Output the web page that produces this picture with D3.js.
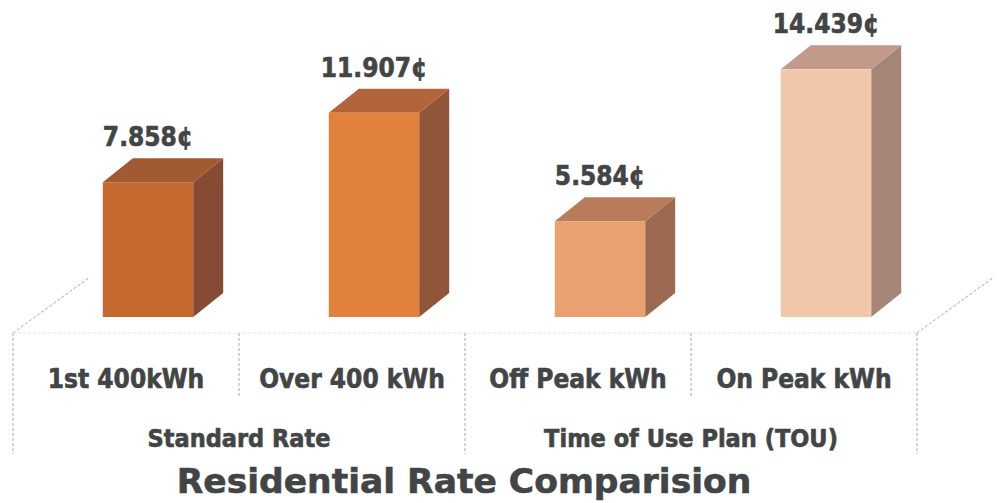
<!DOCTYPE html>
<html lang="en">
<head>
<script type="text/javascript" src="https://cdnjs.cloudflare.com/ajax/libs/d3/7.8.5/d3.min.js"></script>
<style>
    body { margin: 0; background: #fff; }
    text { font-family: "DejaVu Sans Condensed", "DejaVu Sans", sans-serif; font-weight: bold;
           fill: #424545; stroke: #424545; stroke-width: 0.6; }
</style>
</head>
<body>
<div id="container"></div>
<script type="text/javascript">
    var w = 997;
    var h = 503;

    // data
    var categories = ["1st 400kWh", "Over 400 kWh", "Off Peak kWh", "On Peak kWh"];
    var rates = [7.858, 11.907, 5.584, 14.439];
    var groups = ["Standard Rate", "Time of Use Plan (TOU)"];
    var groupOf = [0, 0, 1, 1];
    var title = "Residential Rate Comparision";

    var frontColors = ["#c5692f", "#e2813b", "#eba16f", "#f1c6a9"];
    var topColors   = ["#a25a33", "#b2653a", "#b87c5a", "#c2998a"];
    var sideColors  = ["#864c33", "#91553a", "#9c6a50", "#a58577"];

    var svg = d3.select("#container")
                .append("svg")
                .attr("width", w)
                .attr("height", h);

    var floorY = 333;      // front edge of the floor
    var floorDx = 77, floorDy = -56;   // floor depth
    var barDx = 30, barDy = -24;       // bar depth
    var off = 16 / 56;                 // bars sit this far back on the floor

    var xscale = d3.scaleBand()
                   .domain(categories)
                   .range([13, 917])
                   .padding(0);

    var baseY = floorY + floorDy * off;   // 317
    var yscale = d3.scaleLinear()
                   .domain([0, 15])
                   .range([baseY, baseY - 15 * 17.15]);

    var barW = xscale.bandwidth() * 0.4;
    var frontX = function(d, i) {
        return xscale(categories[i]) + xscale.bandwidth() / 2 - barW / 2 + floorDx * off;
    };

    // floor outline
    var floor = svg.append("g")
                   .attr("stroke", "#a8a8a8")
                   .attr("stroke-width", 1)
                   .attr("stroke-dasharray", "3,2")
                   .attr("fill", "none");
    var x0 = xscale.range()[0], x1 = xscale.range()[1];
    floor.append("line").attr("x1", x0).attr("y1", floorY).attr("x2", x0 + floorDx).attr("y2", floorY + floorDy);
    floor.append("line").attr("x1", x1).attr("y1", floorY).attr("x2", x1 + floorDx).attr("y2", floorY + floorDy);
    floor.append("line").attr("x1", x0).attr("y1", floorY).attr("x2", x1).attr("y2", floorY)
         .attr("stroke", "#e4e4e4");

    // outer dividers (group edges) and inner dividers (category edges)
    floor.selectAll("line.outer")
         .data([0, 2, 4])
         .enter()
         .append("line")
         .attr("class", "outer")
         .attr("x1", function(d) { return d < 4 ? xscale(categories[d]) : x1; })
         .attr("x2", function(d) { return d < 4 ? xscale(categories[d]) : x1; })
         .attr("y1", floorY)
         .attr("y2", 454);
    floor.selectAll("line.inner")
         .data([1, 3])
         .enter()
         .append("line")
         .attr("class", "inner")
         .attr("x1", function(d) { return xscale(categories[d]); })
         .attr("x2", function(d) { return xscale(categories[d]); })
         .attr("y1", floorY)
         .attr("y2", 396);

    // bars
    var bars = svg.selectAll("g.bar")
                  .data(rates)
                  .enter()
                  .append("g")
                  .attr("class", "bar");

    bars.append("path")
        .attr("fill", function(d, i) { return sideColors[i]; })
        .attr("d", function(d, i) {
            var x = frontX(d, i) + barW, yt = yscale(d), yb = yscale(0);
            return "M" + x + "," + yt + "L" + (x + barDx) + "," + (yt + barDy) +
                   "L" + (x + barDx) + "," + (yb + barDy) + "L" + x + "," + yb + "Z";
        });

    bars.append("path")
        .attr("fill", function(d, i) { return topColors[i]; })
        .attr("d", function(d, i) {
            var x = frontX(d, i), yt = yscale(d);
            return "M" + x + "," + yt + "L" + (x + barDx) + "," + (yt + barDy) +
                   "L" + (x + barW + barDx) + "," + (yt + barDy) + "L" + (x + barW) + "," + yt + "Z";
        });

    bars.append("rect")
        .attr("fill", function(d, i) { return frontColors[i]; })
        .attr("x", function(d, i) { return frontX(d, i); })
        .attr("y", function(d) { return yscale(d); })
        .attr("width", barW)
        .attr("height", function(d) { return yscale(0) - yscale(d); });

    // value labels
    bars.append("text")
        .text(function(d) { return d.toFixed(3) + "\u00a2"; })
        .attr("x", function(d, i) { return frontX(d, i) + barW / 2; })
        .attr("y", function(d) { return yscale(d) + barDy - 12; })
        .attr("text-anchor", "middle")
        .attr("font-size", 26);

    // category labels
    svg.selectAll("text.cat")
       .data(categories)
       .enter()
       .append("text")
       .attr("class", "cat")
       .text(function(d) { return d; })
       .attr("x", function(d) { return xscale(d) + xscale.bandwidth() / 2; })
       .attr("y", 388)
       .attr("text-anchor", "middle")
       .attr("font-size", 26);

    // group labels
    svg.selectAll("text.grp")
       .data(groups)
       .enter()
       .append("text")
       .attr("class", "grp")
       .text(function(d) { return d; })
       .attr("x", function(d, gi) {
           var idx = categories.filter(function(c, i) { return groupOf[i] === gi; });
           return (xscale(idx[0]) + xscale(idx[idx.length - 1]) + xscale.bandwidth()) / 2;
       })
       .attr("y", 447)
       .attr("text-anchor", "middle")
       .attr("font-size", 25);

    svg.append("text")
       .text(title)
       .attr("x", 464)
       .attr("y", 493)
       .attr("text-anchor", "middle")
       .style("font-family", "'DejaVu Sans', sans-serif")
       .attr("font-size", 34.5);
</script>
</body>
</html>
